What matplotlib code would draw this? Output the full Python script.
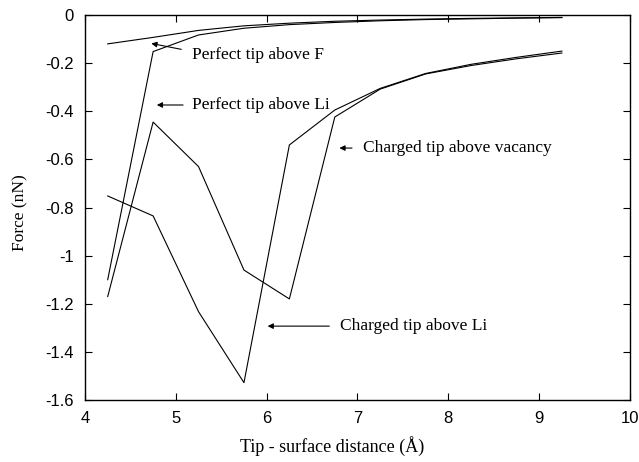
import matplotlib
matplotlib.use('Agg')
import matplotlib.pyplot as plt

# tip - surface distance, A
dist = [4.25, 4.75, 5.25, 5.75, 6.25, 6.75, 7.25, 7.75, 8.25, 8.75, 9.25]

# force, nN
perfect_f = [-0.12, -0.093, -0.064, -0.045, -0.034, -0.026, -0.021, -0.017, -0.014, -0.012, -0.010]
perfect_li = [-1.10, -0.152, -0.083, -0.055, -0.040, -0.031, -0.024, -0.019, -0.016, -0.013, -0.011]
charged_vac = [-1.17, -0.445, -0.63, -1.06, -1.18, -0.424, -0.308, -0.245, -0.210, -0.182, -0.158]
charged_li = [-0.752, -0.835, -1.233, -1.528, -0.54, -0.395, -0.305, -0.243, -0.205, -0.176, -0.150]

labels = ['Perfect tip above F', 'Perfect tip above Li',
          'Charged tip above vacancy', 'Charged tip above Li']

serif = ['Liberation Serif', 'DejaVu Serif']
sans = ['Liberation Sans', 'DejaVu Sans']

fig = plt.figure(figsize=(6.39, 4.62), dpi=100)
ax = fig.add_axes([85 / 639, 1 - 400 / 462, 545 / 639, 385 / 462])

for y in (perfect_f, perfect_li, charged_vac, charged_li):
    ax.plot(dist, y, color='black', lw=0.8)

ax.set_xlim(4, 10)
ax.set_ylim(-1.6, 0)
ax.set_xticks(range(4, 11))
ax.set_yticks([-1.6, -1.4, -1.2, -1, -0.8, -0.6, -0.4, -0.2, 0])
ax.set_yticklabels(['-1.6', '-1.4', '-1.2', '-1', '-0.8', '-0.6', '-0.4', '-0.2', '0'])
ax.tick_params(direction='in', top=True, right=True, length=5, width=0.8, labelsize=12, pad=8)
for t in ax.get_xticklabels() + ax.get_yticklabels():
    t.set_family(sans)
for s in ax.spines.values():
    s.set_linewidth(1.0)

# подписи кривых со стрелками
arr = dict(arrowstyle='-|>', color='black', lw=0.8, mutation_scale=8)
fs = 12.5
ax.annotate('', xy=(4.70, -0.116), xytext=(5.09, -0.145), arrowprops=arr)
ax.text(5.18, -0.166, labels[0], family=serif, fontsize=fs, va='center')
ax.annotate('', xy=(4.76, -0.374), xytext=(5.11, -0.374), arrowprops=arr)
ax.text(5.18, -0.374, labels[1], family=serif, fontsize=fs, va='center')
ax.annotate('', xy=(6.77, -0.553), xytext=(6.97, -0.553), arrowprops=arr)
ax.text(7.06, -0.553, labels[2], family=serif, fontsize=fs, va='center')
ax.annotate('', xy=(5.98, -1.293), xytext=(6.72, -1.293), arrowprops=arr)
ax.text(6.81, -1.293, labels[3], family=serif, fontsize=fs, va='center')

fig.text(332 / 639, 1 - 446 / 462, 'Tip - surface distance (Å)', family=serif,
         fontsize=13, ha='center', va='center')
fig.text(20 / 639, 1 - 213 / 462, 'Force (nN)', family=serif, fontsize=12.5,
         ha='center', va='center', rotation=90)

fig.savefig('out.png', dpi=100)
